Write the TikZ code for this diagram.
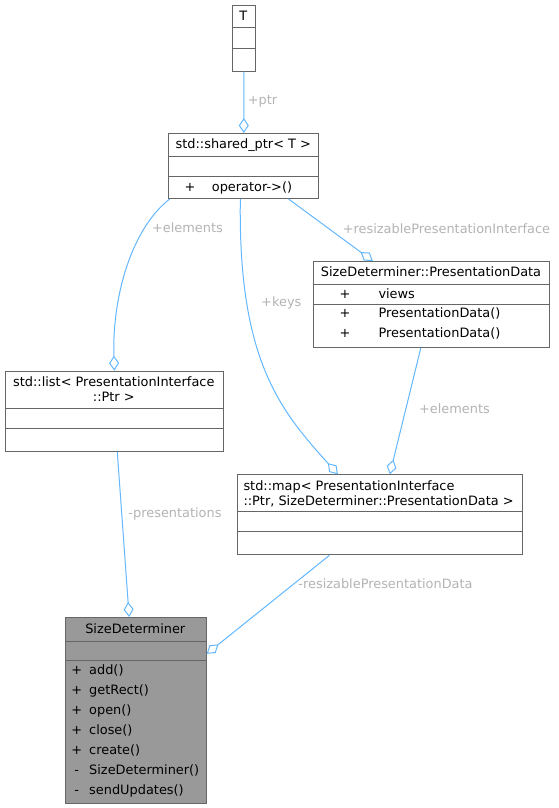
\documentclass[tikz,border=0pt]{standalone}
\usepackage{fontspec}
\setmainfont{DejaVu Sans}
\usepackage{tikz}
\usetikzlibrary{
  arrows.meta,%
  positioning,%
  calc
}
\definecolor{edgeblue}{HTML}{63B8FF}
\definecolor{boxgray}{HTML}{666666}
\definecolor{lblgray}{HTML}{B4B4B4}
\definecolor{clsfill}{HTML}{999999}
\tikzset{
  cls/.style={draw=boxgray, fill=white, line width=1pt, inner sep=0pt, anchor=north west},
  sep/.style={draw=boxgray, line width=1pt},
  txt/.style={inner sep=0pt, font=\fontsize{12.9}{15}\selectfont},
  lbl/.style={txt, text=lblgray, anchor=base},
  assoc/.style={draw=edgeblue, line width=1pt,
    -{Diamond[fill=white, length=15pt, width=10pt]}},
}

\begin{document}
\begin{tikzpicture}[x=1pt, y=-1pt]
  \fill[white] (0,0) rectangle (558,808);
  \useasboundingbox (0,0) rectangle (558,808);

  % class boxes
  \node[cls, minimum width=23.3pt, minimum height=65.7pt] (tptr) at (231.7,5) {};
  \node[cls, minimum width=150pt, minimum height=65pt] (shptr) at (168.3,133) {};
  \node[cls, minimum width=236.6pt, minimum height=85.7pt] (pdata) at (312.7,261) {};
  \node[cls, minimum width=217.7pt, minimum height=80pt] (plist) at (5,370.7) {};
  \node[cls, minimum width=285.3pt, minimum height=80pt] (pmap) at (236.7,474.3) {};
  \node[cls, fill=clsfill, minimum width=140.7pt, minimum height=186pt] (sizedet) at (65,617) {};

  % compartment lines
  \foreach \n/\d in {tptr/23, tptr/44, shptr/23, shptr/43.7, pdata/23.3, pdata/43,
                     plist/37.6, plist/57.3, pmap/37.4, pmap/57.4, sizedet/24, sizedet/43.7}
    \draw[sep] ([yshift=-\d pt]\n.north west) -- ([yshift=-\d pt]\n.north east);

  % titles
  \node[txt, anchor=base] (ttitle) at (243.3,20.5) {T};
  \node[txt, anchor=base] (shtitle) at (243.3,148.5) {std::shared\_ptr< T >};
  \node[txt, anchor=base] (pdtitle) at (431,276.7) {SizeDeterminer::PresentationData};
  \node[txt, align=center, anchor=north] (pltitle) at (113.8,376.4)
    {std::list< PresentationInterface\\::Ptr >};
  \node[txt, align=left, anchor=north west] (pmtitle) at (243.3,480.4)
    {std::map< PresentationInterface\\::Ptr, SizeDeterminer::PresentationData >};
  \node[txt, anchor=base] (sdtitle) at (135.3,633) {SizeDeterminer};

  % members
  \node[txt, anchor=base] (shvis) at (190,191) {+};
  \node[txt, anchor=base west] (shop) at (211.7,191) {operator->()};
  \foreach \m [count=\i from 0] in {views, PresentationData(), PresentationData()} {
    \node[txt, anchor=base] (pdvis\i) at (345,298+19.7*\i) {+};
    \node[txt, anchor=base west] (pdmem\i) at (378.3,298+19.7*\i) {\m};
  }
  \foreach \s/\m [count=\i from 0] in {+/add(), +/getRect(), +/open(), +/close(),
                                      +/create(), -/SizeDeterminer(), -/sendUpdates()} {
    \node[txt, anchor=base] (sdvis\i) at (76.7,674+20*\i) {\s};
    \node[txt, anchor=base west] (sdmem\i) at (89,674+20*\i) {\m};
  }

  % associations
  \draw[assoc] (tptr) -- (shptr);
  \draw[assoc] (shptr.-156) .. controls (130,230) and (112,300) .. (plist.north);
  \draw[assoc] (shptr.-96) .. controls (238,360) and (280,410) .. (pmap.136);
  \draw[assoc] (shptr) -- (pdata);
  \draw[assoc] (pdata) -- (pmap);
  \draw[assoc] (plist) -- (sizedet);
  \draw[assoc] (pmap) -- (sizedet);

  % edge labels
  \node[lbl] (lptr) at (262.5,104) {+ptr};
  \node[lbl] (lelem) at (187.5,232) {+elements};
  \node[lbl] (lkeys) at (281.3,306.5) {+keys};
  \node[lbl] (lrpi) at (446.5,233) {+resizablePresentationInterface};
  \node[lbl] (lelem2) at (454.5,413) {+elements};
  \node[lbl] (lpres) at (175,517) {-presentations};
  \node[lbl] (lrpd) at (385.5,588) {-resizablePresentationData};
\end{tikzpicture}
\end{document}
